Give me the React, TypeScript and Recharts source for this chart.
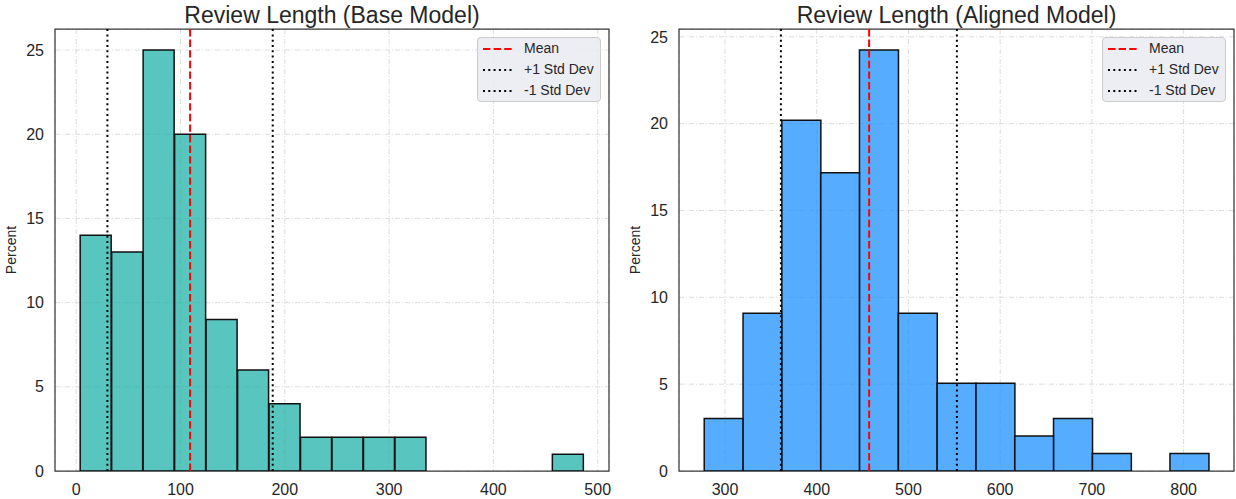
import React from 'react';
import {
  ComposedChart,
  Bar,
  XAxis,
  YAxis,
  CartesianGrid,
  ReferenceLine,
  ReferenceArea,
  Legend,
} from 'recharts';

// bin centres (x) and share of reviews per bin (%)
const baseBinCenters = [
  18.89, 49.07, 79.25, 109.43, 139.61, 169.79, 199.97, 230.15, 260.33, 290.51, 320.69, 350.87,
  381.05, 411.23, 441.41, 471.59,
];
const basePercent = [14, 13, 25, 20, 9, 6, 4, 2, 2, 2, 2, 0, 0, 0, 0, 1];
const baseTicksX = [0, 100, 200, 300, 400, 500];
const baseMean = 109.2;
const baseMinusStd = 29.9;
const basePlusStd = 188.4;

const alignedBinCenters = [
  298.46, 340.78, 383.1, 425.42, 467.74, 510.06, 552.38, 594.7, 637.02, 679.34, 721.66, 763.98,
  806.3,
];
const alignedPercent = [3.03, 9.09, 20.2, 17.17, 24.24, 9.09, 5.05, 5.05, 2.02, 3.03, 1.01, 0, 1.01];
const alignedTicksX = [300, 400, 500, 600, 700, 800];
const alignedMean = 457.1;
const alignedMinusStd = 360.9;
const alignedPlusStd = 552.8;

const percentTicks = [0, 5, 10, 15, 20, 25];

const FONT = '"Liberation Sans", Arial, Helvetica, sans-serif';
const TEXT = '#262626';
const MEAN_DASH = '7.4 3.2';
const STD_DASH = '2 3.3';

const legendItems = [
  { label: 'Mean', color: '#ff0000', dash: MEAN_DASH },
  { label: '+1 Std Dev', color: '#000000', dash: STD_DASH },
  { label: '-1 Std Dev', color: '#000000', dash: STD_DASH },
];

function LegendBox() {
  return (
    <div
      style={{
        width: 124,
        height: 65,
        boxSizing: 'border-box',
        background: 'rgba(234,234,242,0.85)',
        border: '1px solid #cccccc',
        borderRadius: 4,
        paddingLeft: 5,
        fontFamily: FONT,
        fontSize: 14,
        color: TEXT,
      }}
    >
      {legendItems.map((it) => (
        <div key={it.label} style={{ display: 'flex', alignItems: 'center', height: 21 }}>
          <svg width={30} height={4} style={{ display: 'block' }}>
            <line x1={0} y1={2} x2={30} y2={2} stroke={it.color} strokeWidth={2} strokeDasharray={it.dash} />
          </svg>
          <span style={{ marginLeft: 11, lineHeight: '21px' }}>{it.label}</span>
        </div>
      ))}
    </div>
  );
}

interface PanelProps {
  centers: number[];
  values: number[];
  xTicks: number[];
  mean: number;
  minus: number;
  plus: number;
  fill: string;
  yAxisWidth: number;
  marginRight: number;
  legendLeft: number;
}

function HistPanel({ centers, values, xTicks, mean, minus, plus, fill, yAxisWidth, marginRight, legendLeft }: PanelProps) {
  const data = centers.map((c, i) => ({ center: c, pct: values[i] }));
  const w = centers[1] - centers[0];
  const lo = centers[0] - w / 2;
  const hi = centers[centers.length - 1] + w / 2;
  const pad = (hi - lo) * 0.05;
  const xDomain: [number, number] = [lo - pad, hi + pad];
  const yTop = Math.max(...values) * 1.05;

  return (
    <ComposedChart
      width={618}
      height={499}
      data={data}
      margin={{ top: 29, right: marginRight, left: 0, bottom: 0 }}
      barCategoryGap={0}
      barGap={0}
    >
      <CartesianGrid stroke="#d4d4d4" strokeWidth={0.8} strokeDasharray="5 2 1 2" />
      <XAxis
        type="number"
        dataKey="center"
        domain={xDomain}
        allowDataOverflow
        ticks={xTicks}
        interval={0}
        height={28}
        axisLine={false}
        tickLine={false}
        tickSize={6}
        tickMargin={7}
        tick={{ fontSize: 16, fill: TEXT, fontFamily: FONT }}
      />
      <YAxis
        type="number"
        domain={[0, yTop]}
        allowDataOverflow
        ticks={percentTicks}
        interval={0}
        width={yAxisWidth}
        axisLine={false}
        tickLine={false}
        tickSize={6}
        tickMargin={5}
        tick={{ fontSize: 16, fill: TEXT, fontFamily: FONT }}
      />
      <Bar dataKey="pct" fill={fill} fillOpacity={0.75} stroke="#111111" strokeWidth={1.5} isAnimationActive={false} />
      <ReferenceLine x={mean} stroke="#ff0000" strokeWidth={2} strokeDasharray={MEAN_DASH} />
      <ReferenceLine x={plus} stroke="#000000" strokeWidth={2} strokeDasharray={STD_DASH} />
      <ReferenceLine x={minus} stroke="#000000" strokeWidth={2} strokeDasharray={STD_DASH} />
      <ReferenceArea
        x1={xDomain[0]}
        x2={xDomain[1]}
        y1={0}
        y2={yTop}
        fill="none"
        stroke="#3a3a3a"
        strokeWidth={1.25}
        ifOverflow="visible"
      />
      <Legend
        layout="vertical"
        align="center"
        verticalAlign="middle"
        content={() => <LegendBox />}
        wrapperStyle={{ position: 'absolute', left: legendLeft, top: 37, right: 'auto', bottom: 'auto', width: 124 }}
      />
    </ComposedChart>
  );
}

export default function App() {
  return (
    <div
      style={{
        position: 'absolute',
        left: 0,
        top: 0,
        width: 1236,
        height: 499,
        background: '#ffffff',
        fontFamily: FONT,
        overflow: 'hidden',
      }}
    >
      <div style={{ position: 'absolute', left: 0, top: 0 }}>
        <HistPanel
          centers={baseBinCenters}
          values={basePercent}
          xTicks={baseTicksX}
          mean={baseMean}
          minus={baseMinusStd}
          plus={basePlusStd}
          fill="#20b2aa"
          yAxisWidth={55}
          marginRight={9}
          legendLeft={477}
        />
      </div>
      <div style={{ position: 'absolute', left: 618, top: 0 }}>
        <HistPanel
          centers={alignedBinCenters}
          values={alignedPercent}
          xTicks={alignedTicksX}
          mean={alignedMean}
          minus={alignedMinusStd}
          plus={alignedPlusStd}
          fill="#1e90ff"
          yAxisWidth={61}
          marginRight={2}
          legendLeft={484}
        />
      </div>
      <svg
        width={1236}
        height={499}
        style={{ position: 'absolute', left: 0, top: 0, pointerEvents: 'none' }}
      >
        <text x={332} y={23} textAnchor="middle" fontSize={23} fill={TEXT} fontFamily={FONT}>
          Review Length (Base Model)
        </text>
        <text x={956.5} y={23} textAnchor="middle" fontSize={23} fill={TEXT} fontFamily={FONT}>
          Review Length (Aligned Model)
        </text>
        <text x={16} y={250} textAnchor="middle" fontSize={14} fill={TEXT} fontFamily={FONT} transform="rotate(-90 16 250)">
          Percent
        </text>
        <text x={640} y={250} textAnchor="middle" fontSize={14} fill={TEXT} fontFamily={FONT} transform="rotate(-90 640 250)">
          Percent
        </text>
      </svg>
    </div>
  );
}
